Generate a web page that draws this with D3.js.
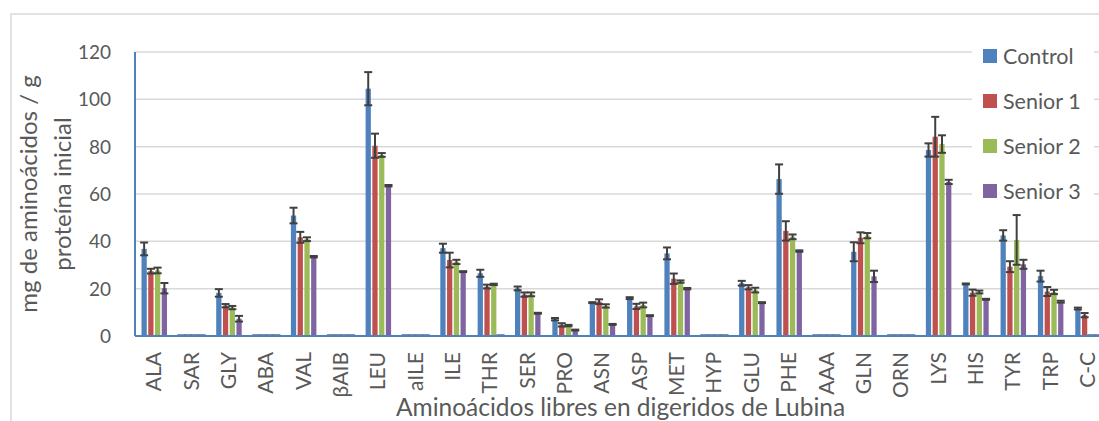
<!DOCTYPE html>
<html>
<head>
<meta charset="utf-8">
<script src="https://cdn.jsdelivr.net/npm/d3@7"></script>
<style>
  body { margin: 0; background: #fff; }
  svg text { font-family: Lato, "Open Sans", sans-serif; fill: #595959; }
</style>
</head>
<body>
<div id="chart"></div>
<script>
const svgWidth = 1099;
const svgHeight = 421;

const categories = ["ALA", "SAR", "GLY", "ABA", "VAL", "βAIB", "LEU", "aILE", "ILE", "THR", "SER", "PRO", "ASN",
    "ASP", "MET", "HYP", "GLU", "PHE", "AAA", "GLN", "ORN", "LYS", "HIS", "TYR", "TRP", "C-C"];
const seriesNames = ["Control", "Senior 1", "Senior 2", "Senior 3"];
const seriesColors = ["#4f81bd", "#c0504d", "#9bbb59", "#8064a2"];

const control = [36.8, 0, 18.2, 0, 50.9, 0, 104.5, 0, 37.1, 26.5, 20.1, 7.1, 14.1, 16.0, 34.9, 0, 22.3, 66.3, 0, 35.6, 0, 78.6, 22.0, 42.5, 25.3, 11.6];
const senior1 = [27.4, 0, 12.8, 0, 41.7, 0, 80.4, 0, 32.1, 20.9, 17.5, 4.7, 14.5, 12.5, 24.2, 0, 20.6, 44.4, 0, 41.5, 0, 84.2, 18.3, 29.3, 18.8, 8.8];
const senior2 = [27.7, 0, 12.0, 0, 40.9, 0, 76.5, 0, 31.3, 21.8, 17.6, 4.4, 12.7, 13.1, 23.0, 0, 19.4, 41.9, 0, 42.4, 0, 81.1, 18.6, 40.6, 18.6, 0];
const senior3 = [20.2, 0, 7.3, 0, 33.5, 0, 63.5, 0, 27.2, 0, 9.6, 2.5, 4.9, 8.6, 20.0, 0, 14.1, 35.9, 0, 25.2, 0, 65.1, 15.5, 30.3, 14.5, 0];

const controlErr = [2.7, 0, 1.6, 0, 3.3, 0, 7.0, 0, 1.9, 1.5, 0.8, 0.5, 0.2, 0.4, 2.5, 0, 1.0, 6.2, 0, 4.0, 0, 2.8, 0.2, 2.2, 2.3, 0.4];
const senior1Err = [1.0, 0, 0.7, 0, 2.3, 0, 5.1, 0, 3.1, 0.8, 0.9, 0.7, 1.0, 1.1, 2.2, 0, 0.9, 4.1, 0, 2.3, 0, 8.4, 1.3, 2.3, 1.9, 0.9];
const senior2Err = [1.2, 0, 0.7, 0, 0.8, 0, 0.8, 0, 0.9, 0.3, 0.8, 0.3, 0.7, 1.0, 0.5, 0, 1.0, 1.0, 0, 1.1, 0, 3.7, 0.6, 10.5, 0.9, 0];
const senior3Err = [2.2, 0, 1.2, 0, 0.3, 0, 0.3, 0, 0.2, 0, 0.2, 0.2, 0.2, 0.2, 0.3, 0, 0.2, 0.3, 0, 2.4, 0, 0.9, 0.2, 1.9, 0.4, 0];

const yTicks = [0, 20, 40, 60, 80, 100, 120];

const values = [control, senior1, senior2, senior3];
const errors = [controlErr, senior1Err, senior2Err, senior3Err];

const rows = [];
categories.forEach((c, i) => {
    seriesNames.forEach((s, j) => {
        rows.push({ cat: c, series: s, value: values[j][i], err: errors[j][i], color: seriesColors[j] });
    });
});

const plot = { left: 135, top: 52, bottom: 336, right: 135 + 26 * 37.35 };

const svg = d3.select("#chart")
    .append("svg")
    .attr("width", svgWidth)
    .attr("height", svgHeight);

// outer chart frame
svg.append("rect")
    .attr("x", 11)
    .attr("y", 14)
    .attr("width", svgWidth + 20)
    .attr("height", svgHeight + 20)
    .attr("fill", "#fff")
    .attr("stroke", "#d9d9d9")
    .attr("stroke-width", 1.5);

const x = d3.scaleBand()
    .domain(categories)
    .range([plot.left, plot.right]);

const xInner = d3.scaleBand()
    .domain(seriesNames)
    .range([6.5, 32])
    .paddingInner(0.22);

const y = d3.scaleLinear()
    .domain([0, 120])
    .range([plot.bottom, plot.top]);

// gridlines
svg.append("g")
    .selectAll("line")
    .data(yTicks.slice(1))
    .enter().append("line")
    .attr("x1", plot.left)
    .attr("x2", svgWidth)
    .attr("y1", d => y(d))
    .attr("y2", d => y(d))
    .attr("stroke", "#d9d9d9")
    .attr("stroke-width", 1.5);

// bars
svg.append("g")
    .selectAll("rect")
    .data(rows.filter(d => d.value > 0))
    .enter().append("rect")
    .attr("x", d => x(d.cat) + xInner(d.series))
    .attr("y", d => y(d.value))
    .attr("width", xInner.bandwidth())
    .attr("height", d => y(0) - y(d.value))
    .attr("fill", d => d.color);

// error bars
const eb = svg.append("g")
    .attr("stroke", "#404040")
    .attr("stroke-width", 2);

rows.forEach(d => {
    const cx = x(d.cat) + xInner(d.series) + xInner.bandwidth() / 2;
    const hi = y(d.value + d.err);
    const lo = y(Math.max(0, d.value - d.err));
    if (d.value > 0) {
        eb.append("line").attr("x1", cx).attr("x2", cx).attr("y1", hi).attr("y2", lo);
        eb.append("line").attr("x1", cx - 4).attr("x2", cx + 4).attr("y1", hi).attr("y2", hi);
        eb.append("line").attr("x1", cx - 4).attr("x2", cx + 4).attr("y1", lo).attr("y2", lo);
    } else {
        eb.append("line")
            .attr("x1", cx - 4).attr("x2", cx + 4)
            .attr("y1", y(0) - 1).attr("y2", y(0) - 1)
            .attr("stroke", "#5b6b88")
            .attr("stroke-width", 1.5);
    }
});

// axis lines
svg.append("line")
    .attr("x1", plot.left).attr("x2", svgWidth)
    .attr("y1", y(0)).attr("y2", y(0))
    .attr("stroke", "#4f81bd").attr("stroke-width", 2);

svg.append("line")
    .attr("x1", plot.left).attr("x2", plot.left)
    .attr("y1", y(120)).attr("y2", y(0))
    .attr("stroke", "#4f81bd").attr("stroke-width", 2);

// y ticks
svg.append("g")
    .selectAll("text")
    .data(yTicks)
    .enter().append("text")
    .attr("x", 111)
    .attr("y", d => y(d))
    .attr("dy", "0.36em")
    .attr("text-anchor", "end")
    .style("font-size", "19px")
    .text(d => d);

// x ticks
svg.append("g")
    .selectAll("text")
    .data(categories)
    .enter().append("text")
    .attr("transform", d => `translate(${x(d) + x.bandwidth() / 2}, 352) rotate(-90)`)
    .attr("dy", "0.36em")
    .attr("text-anchor", "end")
    .style("font-size", "21px")
    .text(d => d);

// axis titles
svg.append("text")
    .attr("x", (plot.left + plot.right) / 2)
    .attr("y", 416)
    .attr("text-anchor", "middle")
    .style("font-size", "24.5px")
    .text("Aminoácidos libres en digeridos de Lubina");

const yTitle = svg.append("text")
    .attr("transform", "translate(0, 194) rotate(-90)")
    .attr("text-anchor", "middle")
    .style("font-size", "24px");
yTitle.append("tspan").attr("x", 0).attr("y", 37).text("mg de aminoácidos / g");
yTitle.append("tspan").attr("x", 0).attr("y", 71).text("proteína inicial");

// legend
const legend = svg.append("g");
legend.append("rect")
    .attr("x", 972)
    .attr("y", 36)
    .attr("width", 122)
    .attr("height", 176)
    .attr("fill", "#fff");

seriesNames.forEach((s, i) => {
    const g = legend.append("g")
        .attr("transform", `translate(983, ${56 + i * 45})`);
    g.append("rect")
        .attr("x", 0)
        .attr("y", -7)
        .attr("width", 14)
        .attr("height", 14)
        .attr("fill", seriesColors[i]);
    g.append("text")
        .attr("x", 20)
        .attr("y", 0)
        .attr("dy", "0.36em")
        .style("font-size", "21.5px")
        .text(s);
});
</script>
</body>
</html>
